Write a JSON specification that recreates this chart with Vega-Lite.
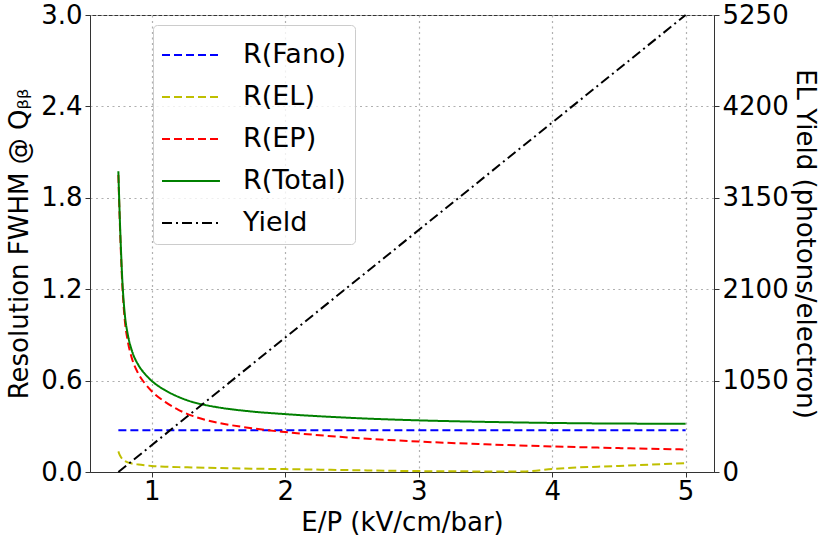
{
  "$schema": "https://vega.github.io/schema/vega-lite/v6.json",
  "autosize": {"type": "none"},
  "padding": {"left": 90, "top": 15, "right": 116, "bottom": 68},
  "width": 624,
  "height": 457,
  "config": {
    "font": "DejaVu Sans",
    "view": {"stroke": "#333333", "strokeWidth": 1},
    "axis": {
      "labelFont": "DejaVu Sans",
      "titleFont": "DejaVu Sans",
      "labelFontSize": 26,
      "titleFontSize": 26,
      "labelColor": "#000000",
      "titleColor": "#000000",
      "titleFontWeight": "normal",
      "domainColor": "#333333",
      "tickColor": "#333333",
      "tickSize": 5,
      "labelPadding": 3,
      "gridColor": "#b0b0b0",
      "gridDash": [2, 3.5],
      "gridWidth": 1.2
    },
    "legend": {
      "labelFont": "DejaVu Sans",
      "labelFontSize": 27,
      "labelColor": "#000000"
    }
  },
  "data": {
    "values": [
      {"x": 0.75, "series": "R(Fano)", "value": 0.274},
      {"x": 5.0, "series": "R(Fano)", "value": 0.274},

      {"x": 0.75, "series": "R(EL)", "value": 0.135},
      {"x": 0.76, "series": "R(EL)", "value": 0.112},
      {"x": 0.77, "series": "R(EL)", "value": 0.097},
      {"x": 0.78, "series": "R(EL)", "value": 0.085},
      {"x": 0.79, "series": "R(EL)", "value": 0.077},
      {"x": 0.8, "series": "R(EL)", "value": 0.071},
      {"x": 0.82, "series": "R(EL)", "value": 0.063},
      {"x": 0.85, "series": "R(EL)", "value": 0.056},
      {"x": 0.9, "series": "R(EL)", "value": 0.049},
      {"x": 0.95, "series": "R(EL)", "value": 0.044},
      {"x": 1.0, "series": "R(EL)", "value": 0.04},
      {"x": 1.1, "series": "R(EL)", "value": 0.035},
      {"x": 1.2, "series": "R(EL)", "value": 0.032},
      {"x": 1.3, "series": "R(EL)", "value": 0.03},
      {"x": 1.4, "series": "R(EL)", "value": 0.028},
      {"x": 1.5, "series": "R(EL)", "value": 0.026},
      {"x": 1.75, "series": "R(EL)", "value": 0.022},
      {"x": 2.0, "series": "R(EL)", "value": 0.019},
      {"x": 2.5, "series": "R(EL)", "value": 0.012},
      {"x": 3.0, "series": "R(EL)", "value": 0.006},
      {"x": 3.5, "series": "R(EL)", "value": 0.004},
      {"x": 3.8, "series": "R(EL)", "value": 0.004},
      {"x": 4.0, "series": "R(EL)", "value": 0.02},
      {"x": 4.5, "series": "R(EL)", "value": 0.04},
      {"x": 5.0, "series": "R(EL)", "value": 0.058},

      {"x": 0.75, "series": "R(EP)", "value": 1.95},
      {"x": 0.76, "series": "R(EP)", "value": 1.66},
      {"x": 0.77, "series": "R(EP)", "value": 1.42},
      {"x": 0.78, "series": "R(EP)", "value": 1.22},
      {"x": 0.79, "series": "R(EP)", "value": 1.08},
      {"x": 0.8, "series": "R(EP)", "value": 0.98},
      {"x": 0.82, "series": "R(EP)", "value": 0.86},
      {"x": 0.85, "series": "R(EP)", "value": 0.75},
      {"x": 0.9, "series": "R(EP)", "value": 0.645},
      {"x": 0.95, "series": "R(EP)", "value": 0.58},
      {"x": 1.0, "series": "R(EP)", "value": 0.53},
      {"x": 1.1, "series": "R(EP)", "value": 0.46},
      {"x": 1.2, "series": "R(EP)", "value": 0.408},
      {"x": 1.3, "series": "R(EP)", "value": 0.37},
      {"x": 1.4, "series": "R(EP)", "value": 0.343},
      {"x": 1.5, "series": "R(EP)", "value": 0.323},
      {"x": 1.75, "series": "R(EP)", "value": 0.287},
      {"x": 2.0, "series": "R(EP)", "value": 0.262},
      {"x": 2.5, "series": "R(EP)", "value": 0.225},
      {"x": 3.0, "series": "R(EP)", "value": 0.2},
      {"x": 3.5, "series": "R(EP)", "value": 0.182},
      {"x": 4.0, "series": "R(EP)", "value": 0.168},
      {"x": 4.5, "series": "R(EP)", "value": 0.157},
      {"x": 5.0, "series": "R(EP)", "value": 0.148},

      {"x": 0.75, "series": "R(Total)", "value": 1.974},
      {"x": 0.76, "series": "R(Total)", "value": 1.686},
      {"x": 0.77, "series": "R(Total)", "value": 1.449},
      {"x": 0.78, "series": "R(Total)", "value": 1.253},
      {"x": 0.79, "series": "R(Total)", "value": 1.117},
      {"x": 0.8, "series": "R(Total)", "value": 1.02},
      {"x": 0.82, "series": "R(Total)", "value": 0.905},
      {"x": 0.85, "series": "R(Total)", "value": 0.8},
      {"x": 0.9, "series": "R(Total)", "value": 0.702},
      {"x": 0.95, "series": "R(Total)", "value": 0.643},
      {"x": 1.0, "series": "R(Total)", "value": 0.598},
      {"x": 1.1, "series": "R(Total)", "value": 0.537},
      {"x": 1.2, "series": "R(Total)", "value": 0.493},
      {"x": 1.3, "series": "R(Total)", "value": 0.461},
      {"x": 1.4, "series": "R(Total)", "value": 0.44},
      {"x": 1.5, "series": "R(Total)", "value": 0.424},
      {"x": 1.75, "series": "R(Total)", "value": 0.397},
      {"x": 2.0, "series": "R(Total)", "value": 0.38},
      {"x": 2.5, "series": "R(Total)", "value": 0.355},
      {"x": 3.0, "series": "R(Total)", "value": 0.339},
      {"x": 3.5, "series": "R(Total)", "value": 0.329},
      {"x": 4.0, "series": "R(Total)", "value": 0.322},
      {"x": 4.5, "series": "R(Total)", "value": 0.318},
      {"x": 5.0, "series": "R(Total)", "value": 0.317},

      {"x": 0.75, "series": "Yield", "value": 0},
      {"x": 5.0, "series": "Yield", "value": 5250}
    ]
  },
  "layer": [
    {
      "transform": [{"filter": "datum.series != 'Yield'"}],
      "mark": {"type": "line", "strokeWidth": 2, "interpolate": "monotone"},
      "encoding": {
        "x": {
          "field": "x",
          "type": "quantitative",
          "scale": {"domain": [0.5375, 5.2125], "nice": false, "zero": false},
          "axis": {"values": [1, 2, 3, 4, 5], "format": "d", "title": "E/P (kV/cm/bar)", "labelPadding": 1, "titlePadding": 5}
        },
        "y": {
          "field": "value",
          "type": "quantitative",
          "scale": {"domain": [0, 3], "nice": false},
          "axis": {"values": [0, 0.6, 1.2, 1.8, 2.4, 3.0], "format": ".1f", "title": "Resolution FWHM @ Qᵦᵦ", "titlePadding": 8}
        },
        "color": {
          "field": "series",
          "type": "nominal",
          "scale": {
            "domain": ["R(Fano)", "R(EL)", "R(EP)", "R(Total)", "Yield"],
            "range": ["#0000ff", "#bfbf00", "#ff0000", "#008000", "#000000"]
          },
          "legend": {
            "title": null,
            "orient": "none",
            "legendX": 63,
            "legendY": 10,
            "symbolType": "M-1,0H1.76",
            "symbolSize": 1764,
            "symbolStrokeWidth": 2,
            "labelOffset": 38,
            "rowPadding": 7,
            "padding": 8,
            "fillColor": "rgba(255,255,255,0.8)",
            "strokeColor": "#cccccc",
            "cornerRadius": 4
          }
        },
        "strokeDash": {
          "field": "series",
          "type": "nominal",
          "scale": {
            "domain": ["R(Fano)", "R(EL)", "R(EP)", "R(Total)", "Yield"],
            "range": [[8, 4], [8, 4], [8, 4], [1, 0], [10, 4, 2, 4]]
          },
          "legend": {
            "title": null,
            "orient": "none",
            "legendX": 63,
            "legendY": 10,
            "symbolType": "M-1,0H1.76",
            "symbolSize": 1764,
            "symbolStrokeWidth": 2,
            "labelOffset": 38,
            "rowPadding": 7,
            "padding": 8,
            "fillColor": "rgba(255,255,255,0.8)",
            "strokeColor": "#cccccc",
            "cornerRadius": 4
          }
        }
      }
    },
    {
      "transform": [{"filter": "datum.series == 'Yield'"}],
      "mark": {"type": "line", "strokeWidth": 2},
      "encoding": {
        "x": {"field": "x", "type": "quantitative"},
        "y": {
          "field": "value",
          "type": "quantitative",
          "scale": {"domain": [0, 5250], "nice": false},
          "axis": {"orient": "right", "values": [0, 1050, 2100, 3150, 4200, 5250], "format": "d", "grid": false, "title": "EL Yield (photons/electron)", "titlePadding": 3}
        },
        "color": {"field": "series", "type": "nominal"},
        "strokeDash": {"field": "series", "type": "nominal"}
      }
    }
  ],
  "resolve": {"scale": {"y": "independent"}}
}
